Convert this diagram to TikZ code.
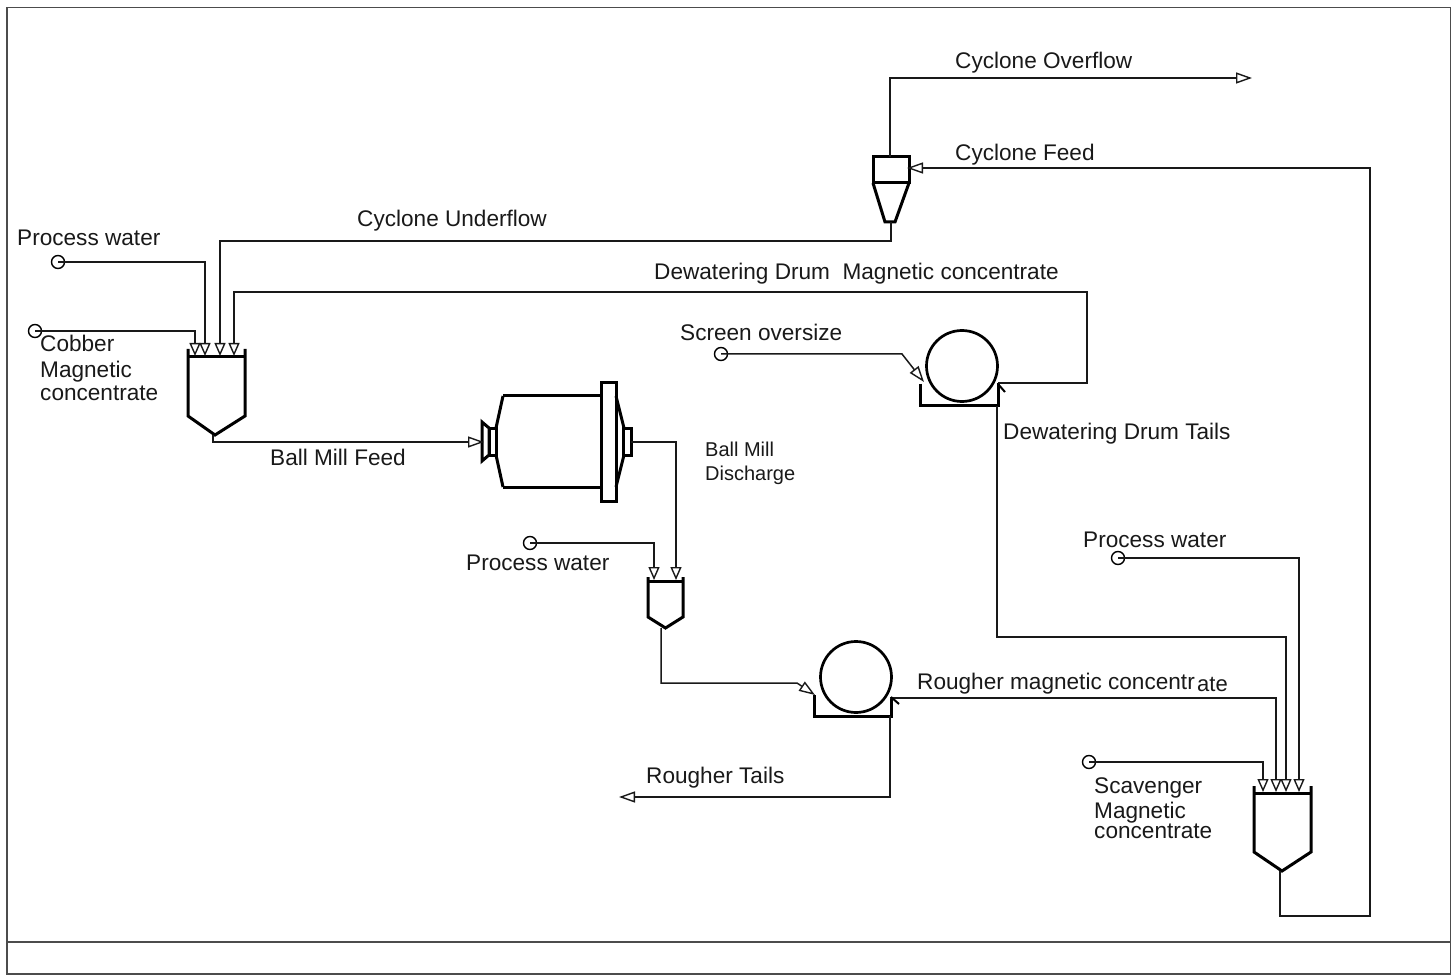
\documentclass[tikz,border=0pt]{standalone}
\usepackage{fontspec}
\setmainfont{Liberation Sans}
\usetikzlibrary{arrows.meta}
\tikzset{
  x=1pt,y=-1pt,
  frameline/.style={draw=black!70,line width=1.8pt},
  equip/.style={draw=black,line width=3pt,line join=miter},
  pipe/.style={draw=black!90,line width=1.5pt},
  flow/.style={pipe,-{Triangle[open,fill=white,length=13pt,width=11pt,line width=1.4pt]}},
  flowL/.style={pipe,-{Triangle[open,fill=white,length=16pt,width=11pt,line width=1.4pt]}},
  src/.style={circle,draw=black,line width=1.4pt,inner sep=0pt,minimum size=13pt},
  drum/.style={circle,draw=black,line width=2.7pt,minimum size=71pt,inner sep=0pt},
  lab/.style={anchor=base west,inner sep=0pt,font=\fontsize{22.6}{24}\selectfont,text=black!90},
  labS/.style={lab,font=\fontsize{20}{22}\selectfont},
}
\newcommand{\hopper}[7]{% left right top stub shoulder tipx tipy
  \draw[equip] (#1,#4) -- (#1,#5) -- (#6,#7) -- (#2,#5) -- (#2,#4);
  \draw[equip] (#1,#3) -- (#2,#3);
}
\begin{document}
\begin{tikzpicture}
\path[use as bounding box,fill=white] (0,0) rectangle (1452,976);
% frame
\draw[frameline] (7,7.5) rectangle (1450.5,974);
\draw[frameline] (7,942) -- (1450.5,942);

% equipment
\hopper{188}{245}{357}{349}{416}{215}{435}
\hopper{648}{683}{581}{577}{617}{665.5}{628}
\hopper{1254}{1311}{793}{786}{852}{1282}{871}
% cyclone
\draw[equip] (873,157) rectangle (909,183);
\draw[equip] (873,183) -- (885,222) -- (895,222) -- (909,183);
% ball mill
\draw[equip] (503,396) -- (601,396) (503,487) -- (601,487);
\draw[equip] (496,428) -- (503,396) (496,455) -- (503,487);
\draw[equip] (482,422) -- (489,428) -- (489,455) -- (482,461) -- cycle;
\draw[equip] (489,428) rectangle (496,455);
\draw[equip] (601,383) rectangle (616,501);
\draw[equip] (616,396) -- (624,428) (616,487) -- (624,455);
\draw[equip] (623,428) rectangle (631,455);
% drums
\node[drum] (drumD) at (962,366) {};
\node[drum] (drumR) at (856,677) {};
\draw[equip] (920,384) -- (920,406) -- (998,406) -- (998,383);
\draw[equip] (814,695) -- (814,716) -- (891,716) -- (891,697);

% named points
\node[src] (pwA) at (58,262) {};
\node[src] (cobC) at (35,331) {};
\node[src] (pwB) at (530,543) {};
\node[src] (scr) at (721,354) {};
\node[src] (pwC) at (1118,558) {};
\node[src] (scvC) at (1089,762) {};
\coordinate (cobT) at (213,435);
\coordinate (millIn) at (484,442);
\coordinate (millOut) at (631,442);
\coordinate (smT) at (661,628);
\coordinate (scvT) at (1280,871);
\coordinate (cycT) at (891,222);
\coordinate (cycO) at (890,157);
\coordinate (cycIn) at (907,168);
\coordinate (overEnd) at (1252,78);
\coordinate (tailEnd) at (619,797);
\coordinate (rougIn) at (815,695);
\coordinate (drumIn) at (924,382);
\coordinate (drumOut) at (998,383);
\coordinate (rougOut) at (890,698);
\coordinate (rougTail) at (890,716);
\coordinate (drumTail) at (997,406);

% connectors
\draw[flow] (cycT) -- (891,241) -- (220,241) -- (220,356);
\draw[flow] (drumOut) -- (1087,383) -- (1087,292) -- (234,292) -- (234,356);
\draw[flow] (pwA.center) -- (205,262) -- (205,356);
\draw[flow] (cobC.center) -- (195,331) -- (195,356);
\draw[flowL] (cobT) -- (213,442) -- (millIn);
\draw[flow] (millOut) -- (676,442) -- (676,580);
\draw[flow] (pwB.center) -- (654,543) -- (654,580);
\draw[flowL] (smT) -- (661,683) -- (797,683) -- (rougIn);
\draw[flowL] (scr.center) -- (902,354) -- (drumIn);
\draw[flowL] (rougTail) -- (890,797) -- (tailEnd);
\draw[flow] (drumTail) -- (997,637) -- (1286,637) -- (1286,792);
\draw[flow] (rougOut) -- (1276,698) -- (1276,792);
\draw[flow] (pwC.center) -- (1299,558) -- (1299,792);
\draw[flow] (scvC.center) -- (1263,762) -- (1263,792);
\draw[flowL] (scvT) -- (1280,916) -- (1370,916) -- (1370,168) -- (cycIn);
\draw[flowL] (cycO) -- (890,78) -- (overEnd);
\draw[line width=2pt] (891,697) -- (899,704);
\draw[line width=2pt] (998,384) -- (1005,392);

% labels
\node[lab] (t1) at (955,69) {Cyclone Overflow};
\node[lab] (t2) at (955,161) {Cyclone Feed};
\node[lab] (t3) at (357,227) {Cyclone Underflow};
\node[lab] (t4) at (17,246) {Process water};
\node[lab] (t5) at (654,280) {Dewatering Drum\ \ Magnetic concentrate};
\node[lab] (t6) at (40,352) {Cobber};
\node[lab] (t7) at (40,378) {Magnetic};
\node[lab] (t8) at (40,401) {concentrate};
\node[lab] (t9) at (680,341) {Screen oversize};
\node[lab] (t10) at (270,465) {Ball Mill Feed};
\node[labS] (t11) at (705,456) {Ball Mill};
\node[labS] (t12) at (705,480) {Discharge};
\node[lab] (t13) at (1003,439) {Dewatering Drum Tails};
\node[lab] (t14) at (466,570) {Process water};
\node[lab] (t15) at (1083,547) {Process water};
\node[lab] (t16) at (917,689) {Rougher magnetic concentr};
\node[lab,font=\fontsize{22}{24}\selectfont] (t17) at (1197,691) {ate};
\node[lab] (t18) at (646,783) {Rougher Tails};
\node[lab] (t19) at (1094,793) {Scavenger};
\node[lab] (t20) at (1094,818) {Magnetic};
\node[lab] (t21) at (1094,838) {concentrate};
\end{tikzpicture}
\end{document}
